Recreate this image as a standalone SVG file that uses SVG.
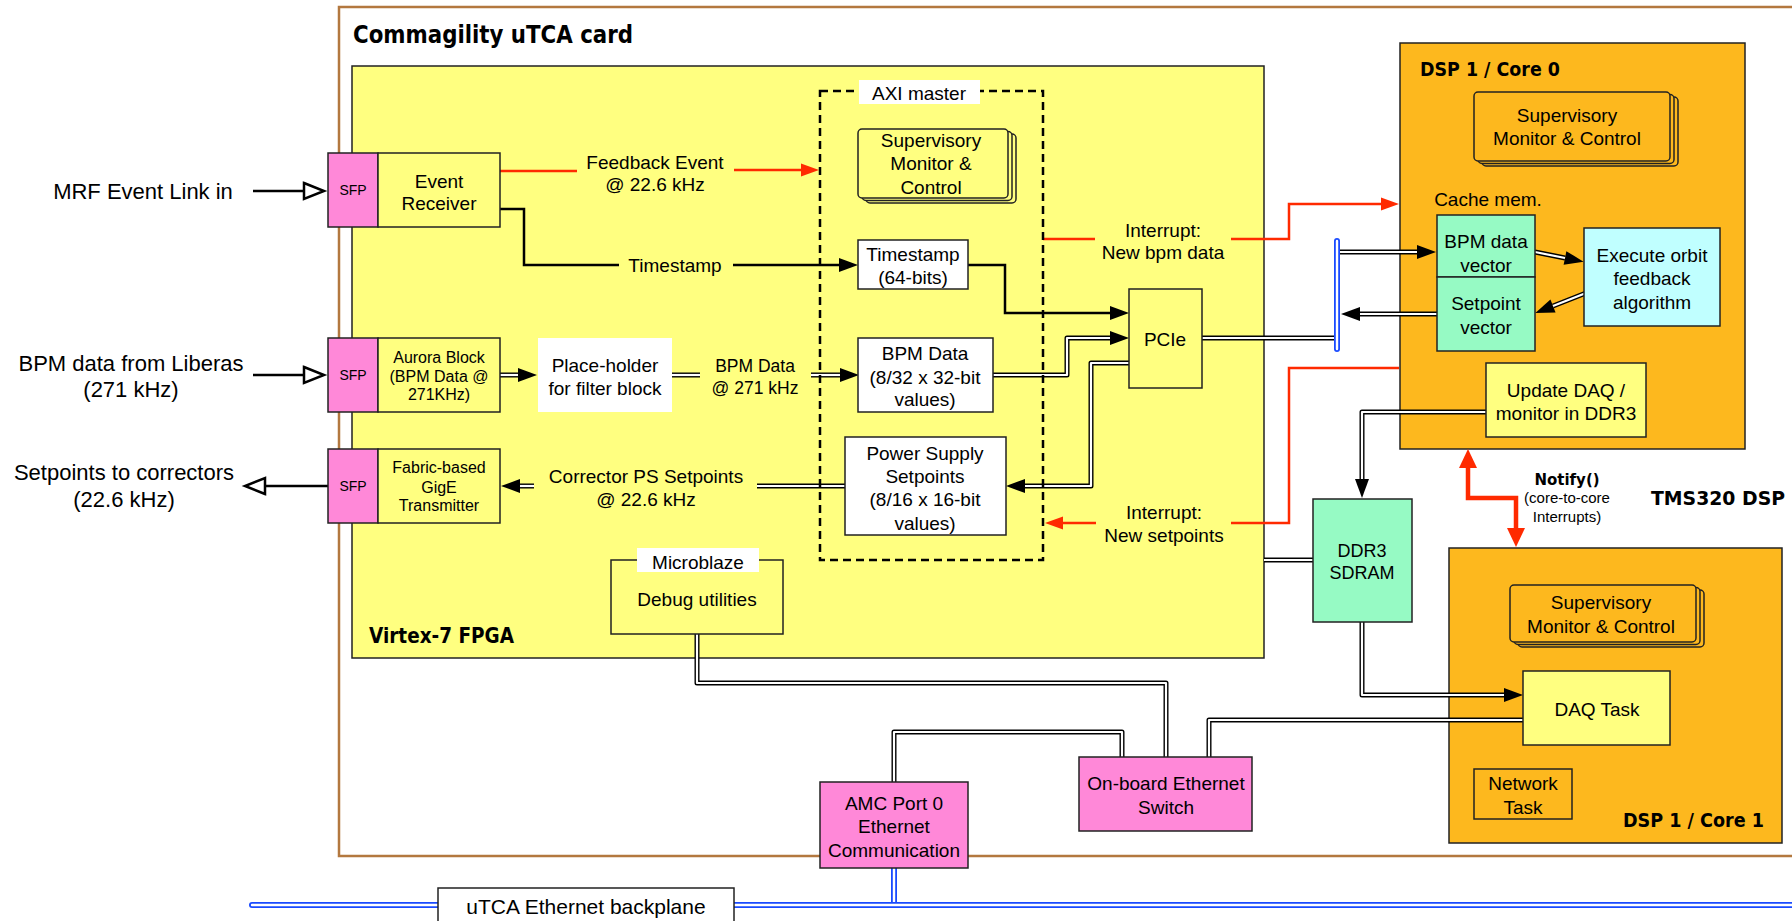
<svg xmlns="http://www.w3.org/2000/svg" xmlns:xlink="http://www.w3.org/1999/xlink" width="1792" height="921" viewBox="0 0 1792 921">
<style>
.box{stroke:#222;stroke-width:1.5}
.yel{fill:#ffff80}.pink{fill:#ff88d8}.org{fill:#fdb81e}.grn{fill:#96fac4}.cyn{fill:#c0ffff}.wht{fill:#fff}
.dO{fill:none;stroke:#000;stroke-width:5;stroke-linejoin:round}
.dI{fill:none;stroke:#fff;stroke-width:2.2;stroke-linejoin:round}
.bO{fill:none;stroke:#1a4bff;stroke-width:6;stroke-linecap:round}
.bI{fill:none;stroke:#fff;stroke-width:2.4;stroke-linecap:round}
.blk{fill:none;stroke:#000;stroke-width:2.5}
.red{fill:none;stroke:#ff2a00;stroke-width:2.5}
.t{font-family:"Liberation Sans",Arial,sans-serif;font-size:19px;text-anchor:middle;fill:#000}
.t22{font-size:22px}.t16{font-size:16px}.t14{font-size:14px}.t15{font-size:15px}.t18{font-size:18px}.t17{font-size:17.5px}.t21{font-size:21px}
.b{font-family:"DejaVu Sans",sans-serif;font-weight:bold;fill:#000}
</style>
<defs>
<marker id="ah" markerUnits="userSpaceOnUse" orient="auto" overflow="visible" markerWidth="20" markerHeight="16"><path d="M0,-7L19,0L0,7z" fill="#000"/></marker>
<marker id="ar" markerUnits="userSpaceOnUse" orient="auto" overflow="visible" markerWidth="20" markerHeight="16"><path d="M0,-6.5L18,0L0,6.5z" fill="#ff2a00"/></marker>
<marker id="an" markerUnits="userSpaceOnUse" orient="auto-start-reverse" overflow="visible" markerWidth="20" markerHeight="20"><path d="M0,-9L19,0L0,9z" fill="#ff2a00"/></marker>
<marker id="ao" markerUnits="userSpaceOnUse" orient="auto" overflow="visible" markerWidth="24" markerHeight="20"><path d="M0,-8L20,0L0,8z" fill="#fff" stroke="#000" stroke-width="2.5" stroke-linejoin="miter"/></marker>
<path id="p7" d="M500,375H518"/>
<path id="p8a" d="M672,375H700"/>
<path id="p8b" d="M811,375H840"/>
<path id="p9" d="M993,375H1067V338H1110"/>
<path id="p10" d="M1129,363H1091V486H1025"/>
<path id="p11a" d="M845,486H757"/>
<path id="p11b" d="M534,486H520"/>
<path id="p14" d="M1202,338H1337"/>
<path id="p15" d="M1340,252H1417"/>
<path id="p16" d="M1437,314H1360"/>
<path id="p18" d="M1535,252L1565,258"/>
<path id="p19" d="M1586,293L1553,306"/>
<path id="p20" d="M1486,412H1362V479"/>
<path id="p21" d="M1264,560H1313"/>
<path id="p22" d="M1362,622V695H1504"/>
<path id="p23" d="M1523,720H1209V758"/>
<path id="p24" d="M697,634V683H1166V758"/>
<path id="p25" d="M894,782V732H1122V758"/>
<path id="pbus" d="M1337,241V349"/>
<path id="pamc" d="M894,868V905"/>
<path id="pbp" d="M252,905H1800"/>
</defs>

<g id="card">
<rect x="339" y="7" width="1470" height="849" fill="#fff" stroke="#b3783f" stroke-width="2.5"/>
<text class="b" x="353" y="43" font-size="24" textLength="280" lengthAdjust="spacingAndGlyphs">Commagility uTCA card</text>
</g>
<g id="fpga">
<rect class="box yel" x="352" y="66" width="912" height="592"/>
<text class="b" x="369" y="643" font-size="21" textLength="145" lengthAdjust="spacingAndGlyphs">Virtex-7 FPGA</text>
</g>
<g id="dsp-core0">
<rect class="box org" x="1400" y="43" width="345" height="406"/>
<text class="b" x="1420" y="76" font-size="20" textLength="140" lengthAdjust="spacingAndGlyphs">DSP 1 / Core 0</text>
</g>
<g id="dsp-core1">
<rect class="box org" x="1449" y="548" width="333" height="295"/>
<text class="b" x="1623" y="827" font-size="20" textLength="141" lengthAdjust="spacingAndGlyphs">DSP 1 / Core 1</text>
</g>
<g id="tms320">
<text class="b" x="1651" y="505" font-size="19" textLength="134" lengthAdjust="spacingAndGlyphs">TMS320 DSP</text>
</g>

<g id="connectors">
<path class="blk" stroke-width="3.5" d="M253,191H304" marker-end="url(#ao)"/>
<path class="blk" stroke-width="3.5" d="M253,375H304" marker-end="url(#ao)"/>
<path class="blk" stroke-width="3.5" d="M328,486H265" marker-end="url(#ao)"/>
<path class="red" d="M500,171H577"/>
<path class="red" d="M734,170H801" marker-end="url(#ar)"/>
<path class="blk" d="M500,209H524V265H619"/>
<path class="blk" d="M733,265H839" marker-end="url(#ah)"/>
<path class="blk" d="M968,265H1005V313H1110" marker-end="url(#ah)"/>
<path class="red" d="M1043,239H1095"/>
<path class="red" d="M1231,239H1289V204H1381" marker-end="url(#ar)"/>
<path class="red" d="M1399,368H1289V523H1231"/>
<path class="red" d="M1096,523H1063" marker-end="url(#ar)"/>
<path fill="none" stroke="#ff2a00" stroke-width="4.5" d="M1468,468V498H1516V528" marker-start="url(#an)" marker-end="url(#an)"/>
<use href="#p7" class="dO" marker-end="url(#ah)"/><use href="#p7" class="dI"/>
<use href="#p8a" class="dO"/><use href="#p8a" class="dI"/>
<use href="#p8b" class="dO" marker-end="url(#ah)"/><use href="#p8b" class="dI"/>
<use href="#p9" class="dO" marker-end="url(#ah)"/><use href="#p9" class="dI"/>
<use href="#p10" class="dO" marker-end="url(#ah)"/><use href="#p10" class="dI"/>
<use href="#p11a" class="dO"/><use href="#p11a" class="dI"/>
<use href="#p11b" class="dO" marker-end="url(#ah)"/><use href="#p11b" class="dI"/>
<use href="#p14" class="dO"/><use href="#p14" class="dI"/>
<use href="#p15" class="dO" marker-end="url(#ah)"/><use href="#p15" class="dI"/>
<use href="#p16" class="dO" marker-end="url(#ah)"/><use href="#p16" class="dI"/>
<use href="#p18" class="dO" marker-end="url(#ah)"/><use href="#p18" class="dI"/>
<use href="#p19" class="dO" marker-end="url(#ah)"/><use href="#p19" class="dI"/>
<use href="#p20" class="dO" marker-end="url(#ah)"/><use href="#p20" class="dI"/>
<use href="#p21" class="dO"/><use href="#p21" class="dI"/>
<use href="#p22" class="dO" marker-end="url(#ah)"/><use href="#p22" class="dI"/>
<use href="#p23" class="dO"/><use href="#p23" class="dI"/>
<use href="#p24" class="dO"/><use href="#p24" class="dI"/>
<use href="#p25" class="dO"/><use href="#p25" class="dI"/>
<use href="#pbus" class="bO"/><use href="#pbus" class="bI"/>
<use href="#pamc" class="bO"/><use href="#pamc" class="bI"/>
<use href="#pbp" class="bO"/><use href="#pbp" class="bI"/>
<text class="t" x="655" y="169">Feedback Event</text>
<text class="t" x="655" y="191">@ 22.6 kHz</text>
<text class="t" x="675" y="272">Timestamp</text>
<text class="t t17" x="755" y="372">BPM Data</text>
<text class="t t17" x="755" y="394">@ 271 kHz</text>
<text class="t" x="646" y="483">Corrector PS Setpoints</text>
<text class="t" x="646" y="506">@ 22.6 kHz</text>
<text class="t" x="1163" y="237">Interrupt:</text>
<text class="t" x="1163" y="259">New bpm data</text>
<text class="t" x="1164" y="519">Interrupt:</text>
<text class="t" x="1164" y="542">New setpoints</text>
<text class="b" x="1567" y="485" font-size="15" text-anchor="middle">Notify()</text>
<text class="t t15" x="1567" y="503">(core-to-core</text>
<text class="t t15" x="1567" y="522">Interrupts)</text>
</g>

<g id="ext-labels">
<text class="t t22" x="143" y="199">MRF Event Link in</text>
<text class="t t22" x="131" y="371">BPM data from Liberas</text>
<text class="t t22" x="131" y="397">(271 kHz)</text>
<text class="t t22" x="124" y="480">Setpoints to correctors</text>
<text class="t t22" x="124" y="507">(22.6 kHz)</text>
</g>

<g id="sfp1"><rect class="box pink" x="328" y="153" width="50" height="74"/><text class="t t14" x="353" y="195">SFP</text></g>
<g id="event-receiver"><rect class="box yel" x="378" y="153" width="122" height="74"/><text class="t" x="439" y="188">Event</text><text class="t" x="439" y="210">Receiver</text></g>
<g id="sfp2"><rect class="box pink" x="328" y="338" width="50" height="74"/><text class="t t14" x="353" y="380">SFP</text></g>
<g id="aurora"><rect class="box yel" x="378" y="338" width="122" height="74"/><text class="t t16" x="439" y="363">Aurora Block</text><text class="t t16" x="439" y="382">(BPM Data @</text><text class="t t16" x="439" y="400">271KHz)</text></g>
<g id="sfp3"><rect class="box pink" x="328" y="449" width="50" height="74"/><text class="t t14" x="353" y="491">SFP</text></g>
<g id="gige"><rect class="box yel" x="378" y="449" width="122" height="74"/><text class="t t16" x="439" y="473">Fabric-based</text><text class="t t16" x="439" y="493">GigE</text><text class="t t16" x="439" y="511">Transmitter</text></g>
<g id="placeholder"><rect class="wht" x="538" y="338" width="134" height="74"/><text class="t" x="605" y="372">Place-holder</text><text class="t" x="605" y="395">for filter block</text></g>

<g id="axi-master">
<rect x="820" y="91" width="223" height="469" fill="none" stroke="#000" stroke-width="2.5" stroke-dasharray="8,5"/>
<rect class="wht" x="859" y="80" width="121" height="24"/>
<text class="t" x="919" y="100">AXI master</text>
</g>
<g id="axi-supervisory">
<rect class="box yel" x="866" y="134" width="150" height="69" rx="4"/>
<rect class="box yel" x="862" y="131.5" width="150" height="69" rx="4"/>
<rect class="box yel" x="858" y="129" width="150" height="69" rx="4"/>
<text class="t" x="931" y="147">Supervisory</text><text class="t" x="931" y="170">Monitor &amp;</text><text class="t" x="931" y="194">Control</text>
</g>
<g id="timestamp-reg"><rect class="box wht" x="858" y="240" width="110" height="49"/><text class="t" x="913" y="261">Timestamp</text><text class="t" x="913" y="284">(64-bits)</text></g>
<g id="bpm-data-reg"><rect class="box wht" x="858" y="338" width="135" height="74"/><text class="t" x="925" y="360">BPM Data</text><text class="t" x="925" y="384">(8/32 x 32-bit</text><text class="t" x="925" y="406">values)</text></g>
<g id="ps-setpoints"><rect class="box wht" x="845" y="437" width="161" height="98"/><text class="t" x="925" y="460">Power Supply</text><text class="t" x="925" y="483">Setpoints</text><text class="t" x="925" y="506">(8/16 x 16-bit</text><text class="t" x="925" y="530">values)</text></g>
<g id="pcie"><rect class="box yel" x="1129" y="289" width="73" height="99"/><text class="t" x="1165" y="346" font-size="20">PCIe</text></g>
<g id="microblaze">
<rect x="611" y="560" width="172" height="74" fill="none" stroke="#222" stroke-width="1.5"/>
<rect class="wht" x="637" y="548" width="122" height="24"/>
<text class="t" x="698" y="569">Microblaze</text>
<text class="t" x="697" y="606">Debug utilities</text>
</g>
<g id="ddr3"><rect class="box grn" x="1313" y="499" width="99" height="123"/><text class="t t18" x="1362" y="557">DDR3</text><text class="t t18" x="1362" y="579">SDRAM</text></g>
<g id="eth-switch"><rect class="box pink" x="1079" y="757" width="173" height="74"/><text class="t" x="1166" y="790">On-board Ethernet</text><text class="t" x="1166" y="814">Switch</text></g>
<g id="amc-port0"><rect class="box pink" x="820" y="782" width="148" height="86"/><text class="t" x="894" y="810">AMC Port 0</text><text class="t" x="894" y="833">Ethernet</text><text class="t" x="894" y="857">Communication</text></g>
<g id="backplane"><rect class="box wht" x="438" y="888" width="296" height="40"/><text class="t t21" x="586" y="914">uTCA Ethernet backplane</text></g>

<g id="core0-supervisory">
<rect class="box org" x="1482" y="97" width="196" height="69" rx="4"/>
<rect class="box org" x="1478" y="94.5" width="196" height="69" rx="4"/>
<rect class="box org" x="1474" y="92" width="196" height="69" rx="4"/>
<text class="t" x="1567" y="122">Supervisory</text><text class="t" x="1567" y="145">Monitor &amp; Control</text>
</g>
<g id="cache-mem"><text class="t" x="1488" y="206">Cache mem.</text></g>
<g id="bpm-vector"><rect class="box grn" x="1437" y="215" width="98" height="62"/><text class="t" x="1486" y="248">BPM data</text><text class="t" x="1486" y="272">vector</text></g>
<g id="setpoint-vector"><rect class="box grn" x="1437" y="277" width="98" height="74"/><text class="t" x="1486" y="310">Setpoint</text><text class="t" x="1486" y="334">vector</text></g>
<g id="orbit-feedback"><rect class="box cyn" x="1584" y="228" width="136" height="98"/><text class="t" x="1652" y="262">Execute orbit</text><text class="t" x="1652" y="285">feedback</text><text class="t" x="1652" y="309">algorithm</text></g>
<g id="update-daq"><rect class="box yel" x="1486" y="363" width="160" height="74"/><text class="t" x="1566" y="397">Update DAQ /</text><text class="t" x="1566" y="420">monitor in DDR3</text></g>

<g id="core1-supervisory">
<rect class="box org" x="1518" y="590" width="186" height="57" rx="4"/>
<rect class="box org" x="1514" y="587.5" width="186" height="57" rx="4"/>
<rect class="box org" x="1510" y="585" width="186" height="57" rx="4"/>
<text class="t" x="1601" y="609">Supervisory</text><text class="t" x="1601" y="633">Monitor &amp; Control</text>
</g>
<g id="daq-task"><rect class="box yel" x="1523" y="671" width="147" height="74"/><text class="t" x="1597" y="716">DAQ Task</text></g>
<g id="network-task"><rect class="box org" x="1474" y="769" width="98" height="50"/><text class="t" x="1523" y="790">Network</text><text class="t" x="1523" y="814">Task</text></g>
</svg>
